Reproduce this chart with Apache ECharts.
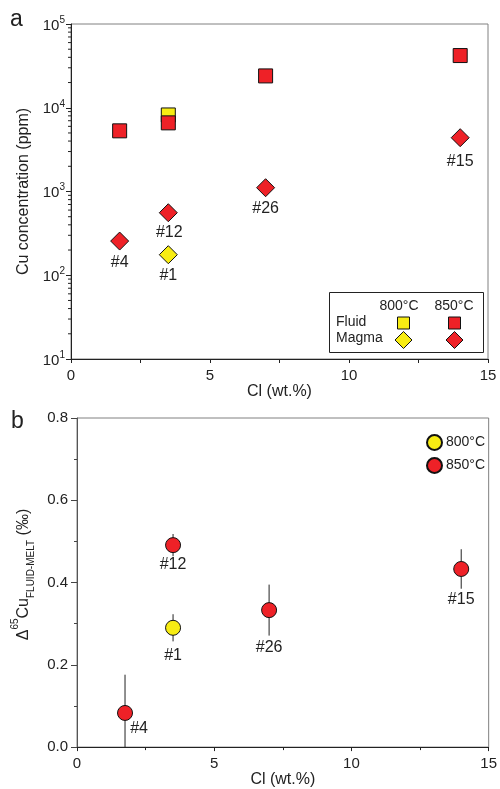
<!DOCTYPE html>
<html>
<head>
<meta charset="utf-8">
<script src="https://cdn.jsdelivr.net/npm/echarts@6/dist/echarts.min.js"></script>
<style>
html,body{margin:0;padding:0;background:#fff;}
#c{width:500px;height:789px;}
</style>
</head>
<body>
<div id="c"></div>
<script>
// ---- Panel a data ----
const clA = [1.75, 3.5, 7, 14];
const fluid850 = [5300, 6600, 24000, 42000];
const clFluid800 = [3.5];
const fluid800 = [8200];
const magma850 = [256, 558, 1110, 4390];
const magma850Labels = ['#4', '#12', '#26', '#15'];
const clMagma800 = [3.5];
const magma800 = [176];
const magma800Labels = ['#1'];
const yTicksA = [10, 100, 1000, 10000, 100000];
const xTicks = [0, 5, 10, 15];

// ---- Panel b data ----
const clB850 = [1.75, 3.5, 7, 14];
const dCu850 = [0.083, 0.491, 0.333, 0.433];
const err850 = [0.093, 0.027, 0.062, 0.048];
const labels850 = ['#4', '#12', '#26', '#15'];
const clB800 = [3.5];
const dCu800 = [0.29];
const err800 = [0.033];
const labels800 = ['#1'];
const yTicksB = [0, 0.2, 0.4, 0.6, 0.8];

// label offsets (styling, relative to marker centre)
const offA850 = [[0, 22], [1, 20], [0, 21], [0, 24]];
const offA800 = [[0, 21]];
const offB850 = [[14, 16], [0, 19], [0, 37], [0, 31]];
const offB800 = [[0, 28]];

const RED = '#ee2127';
const YEL = '#f7ec13';
const FONT = "'Liberation Sans', Arial, sans-serif";
const TXT = '#222';

function pts(xs, ys, labels, offs) {
  return xs.map((x, i) => {
    const d = { value: [x, ys[i]] };
    if (labels) {
      d.label = { show: true, formatter: labels[i], position: 'inside', offset: offs[i],
        color: TXT, fontSize: 16, fontFamily: FONT, align: 'center', verticalAlign: 'middle' };
    }
    return d;
  });
}

const minorLog = [];
for (let e = 1; e < 5; e++) for (let k = 2; k <= 9; k++) minorLog.push([0, k * Math.pow(10, e)]);

const chart = echarts.init(document.getElementById('c'), null, { renderer: 'canvas' });

const option = {
  animation: false,
  textStyle: { fontFamily: FONT },
  grid: [
    { left: 71, top: 24, width: 417, height: 335, show: true, borderColor: '#808080', borderWidth: 1 },
    { left: 77, top: 418, width: 415, height: 334, show: true, borderColor: '#808080', borderWidth: 1 }
  ],
  legend: {
    data: ['800°C', '850°C'],
    orient: 'vertical', left: 421, top: 429,
    itemWidth: 15, itemHeight: 15, itemGap: 6,
    textStyle: { fontSize: 14, color: TXT, fontFamily: FONT, padding: [0, 0, 0, -1] },
    icon: 'circle',
    selectedMode: false
  },
  xAxis: [
    { gridIndex: 0, type: 'value', min: 0, max: 15, interval: 5,
      name: 'Cl (wt.%)', nameLocation: 'middle', nameGap: 20,
      nameTextStyle: { fontSize: 16, color: TXT, fontFamily: FONT },
      axisLine: { lineStyle: { color: '#222', width: 1 } },
      axisTick: { show: true, length: 4, lineStyle: { color: '#222' } },
      minorTick: { show: true, splitNumber: 2, length: 4, lineStyle: { color: '#222' } },
      axisLabel: { fontSize: 15, color: TXT, margin: 9, fontFamily: FONT },
      splitLine: { show: false }, minorSplitLine: { show: false } },
    { gridIndex: 1, type: 'value', min: 0, max: 15, interval: 5,
      name: 'Cl (wt.%)', nameLocation: 'middle', nameGap: 22,
      nameTextStyle: { fontSize: 16, color: TXT, fontFamily: FONT },
      axisLine: { lineStyle: { color: '#222', width: 1 } },
      axisTick: { show: true, length: 4, lineStyle: { color: '#222' } },
      minorTick: { show: true, splitNumber: 2, length: 3, lineStyle: { color: '#222' } },
      axisLabel: { fontSize: 15, color: TXT, margin: 9, fontFamily: FONT },
      splitLine: { show: false }, minorSplitLine: { show: false } }
  ],
  yAxis: [
    { gridIndex: 0, type: 'log', logBase: 10, min: yTicksA[0], max: yTicksA[yTicksA.length - 1],
      name: 'Cu concentration (ppm)', nameLocation: 'middle', nameGap: 36, nameRotate: 90,
      nameTextStyle: { fontSize: 16, color: TXT, fontFamily: FONT },
      axisLine: { show: true, lineStyle: { color: '#222', width: 1 } },
      axisTick: { show: true, length: 5, lineStyle: { color: '#222' } },
      axisLabel: { margin: 6, color: TXT, fontFamily: FONT,
        formatter: v => '{b|10}{s|' + Math.round(Math.log10(v)) + '}',
        rich: { b: { fontSize: 15, color: TXT, fontFamily: FONT, lineHeight: 18, verticalAlign: 'bottom' },
                s: { fontSize: 10, color: TXT, fontFamily: FONT, lineHeight: 18, verticalAlign: 'top' } } },
      splitLine: { show: false } },
    { gridIndex: 1, type: 'value', min: 0, max: 0.8, interval: 0.2,
      name: '{p| }{m|Δ}{s|65}{m|Cu}{u|FLUID-MELT}{m| (‰)}', nameLocation: 'middle', nameGap: 37, nameRotate: 90,
      nameTextStyle: { color: TXT, fontFamily: FONT,
        rich: { p: { width: 16, fontSize: 10 },
                m: { fontSize: 16, color: TXT, fontFamily: FONT, lineHeight: 26, verticalAlign: 'middle' },
                s: { fontSize: 10, color: TXT, fontFamily: FONT, lineHeight: 26, verticalAlign: 'top' },
                u: { fontSize: 10, color: TXT, fontFamily: FONT, lineHeight: 26, verticalAlign: 'bottom' } } },
      axisLine: { show: true, lineStyle: { color: '#555', width: 1 } },
      axisTick: { show: true, length: 6, lineStyle: { color: '#444' } },
      minorTick: { show: true, splitNumber: 2, length: 3, lineStyle: { color: '#444' } },
      axisLabel: { fontSize: 15, color: TXT, margin: 9, fontFamily: FONT, formatter: v => v.toFixed(1) },
      splitLine: { show: false }, minorSplitLine: { show: false } }
  ],
  graphic: [
    { type: 'text', left: 10, top: 8, style: { text: 'a', fontSize: 23, fill: TXT, fontFamily: FONT } },
    { type: 'text', left: 11, top: 410, style: { text: 'b', fontSize: 23, fill: TXT, fontFamily: FONT } },
    // panel a legend box
    { type: 'rect', shape: { x: 329.5, y: 292.5, width: 154, height: 60 }, style: { fill: '#fff', stroke: '#222', lineWidth: 1 }, z: 50 },
    { type: 'text', x: 399, y: 306, style: { text: '800°C', fontSize: 14, fill: TXT, fontFamily: FONT, align: 'center', verticalAlign: 'middle' }, z: 51 },
    { type: 'text', x: 454, y: 306, style: { text: '850°C', fontSize: 14, fill: TXT, fontFamily: FONT, align: 'center', verticalAlign: 'middle' }, z: 51 },
    { type: 'text', x: 336, y: 322, style: { text: 'Fluid', fontSize: 14, fill: TXT, fontFamily: FONT, align: 'left', verticalAlign: 'middle' }, z: 51 },
    { type: 'text', x: 336, y: 338, style: { text: 'Magma', fontSize: 14, fill: TXT, fontFamily: FONT, align: 'left', verticalAlign: 'middle' }, z: 51 },
    { type: 'rect', shape: { x: 397.5, y: 317, width: 12, height: 12 }, style: { fill: YEL, stroke: '#111', lineWidth: 1 }, z: 51 },
    { type: 'rect', shape: { x: 448.5, y: 317, width: 12, height: 12 }, style: { fill: RED, stroke: '#111', lineWidth: 1 }, z: 51 },
    { type: 'polygon', shape: { points: [[403.5, 331.5], [412, 340], [403.5, 348.5], [395, 340]] }, style: { fill: YEL, stroke: '#111', lineWidth: 1 }, z: 51 },
    { type: 'polygon', shape: { points: [[454.5, 331.5], [463, 340], [454.5, 348.5], [446, 340]] }, style: { fill: RED, stroke: '#111', lineWidth: 1 }, z: 51 }
  ],
  series: [
    // log minor ticks on panel a y axis
    { type: 'custom', xAxisIndex: 0, yAxisIndex: 0, silent: true, clip: false, z: 1,
      data: minorLog,
      renderItem: (params, api) => {
        const p = api.coord([api.value(0), api.value(1)]);
        const x0 = params.coordSys.x;
        return { type: 'line', shape: { x1: x0 - 3, y1: p[1], x2: x0, y2: p[1] }, style: { stroke: '#222', lineWidth: 1 } };
      } },
    { name: 'Fluid 800', type: 'scatter', xAxisIndex: 0, yAxisIndex: 0, symbol: 'rect', symbolSize: 14,
      itemStyle: { color: YEL, borderColor: '#111', borderWidth: 1, opacity: 1 },
      data: pts(clFluid800, fluid800) },
    { name: 'Fluid 850', type: 'scatter', xAxisIndex: 0, yAxisIndex: 0, symbol: 'rect', symbolSize: 14,
      itemStyle: { color: RED, borderColor: '#111', borderWidth: 1, opacity: 1 },
      data: pts(clA, fluid850) },
    { name: 'Magma 800', type: 'scatter', xAxisIndex: 0, yAxisIndex: 0, symbol: 'diamond', symbolSize: 18,
      itemStyle: { color: YEL, borderColor: '#111', borderWidth: 1, opacity: 1 },
      data: pts(clMagma800, magma800, magma800Labels, offA800) },
    { name: 'Magma 850', type: 'scatter', xAxisIndex: 0, yAxisIndex: 0, symbol: 'diamond', symbolSize: 18,
      itemStyle: { color: RED, borderColor: '#111', borderWidth: 1, opacity: 1 },
      data: pts(clA, magma850, magma850Labels, offA850) },
    // error bars panel b
    { type: 'custom', xAxisIndex: 1, yAxisIndex: 1, silent: true, z: 2,
      data: clB850.map((x, i) => [x, dCu850[i], err850[i]]).concat(clB800.map((x, i) => [x, dCu800[i], err800[i]])),
      renderItem: (params, api) => {
        const x = api.value(0), y = api.value(1), e = api.value(2);
        const top = api.coord([x, y + e]);
        const bot = api.coord([x, Math.max(y - e, 0)]);
        return { type: 'line', shape: { x1: top[0], y1: top[1], x2: bot[0], y2: bot[1] }, style: { stroke: '#222', lineWidth: 1 } };
      } },
    { name: '800°C', type: 'scatter', xAxisIndex: 1, yAxisIndex: 1, symbol: 'circle', symbolSize: 15, z: 3,
      itemStyle: { color: YEL, borderColor: '#111', borderWidth: 1, opacity: 1 },
      data: pts(clB800, dCu800, labels800, offB800) },
    { name: '850°C', type: 'scatter', xAxisIndex: 1, yAxisIndex: 1, symbol: 'circle', symbolSize: 15, z: 3,
      itemStyle: { color: RED, borderColor: '#111', borderWidth: 1, opacity: 1 },
      data: pts(clB850, dCu850, labels850, offB850) }
  ]
};
chart.setOption(option);
</script>
</body>
</html>
